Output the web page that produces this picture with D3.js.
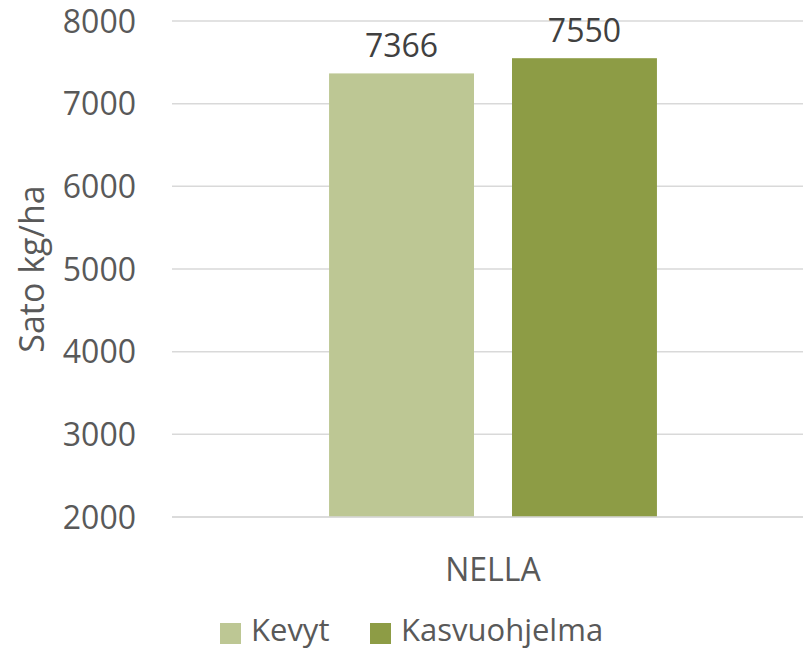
<!DOCTYPE html>
<html>
<head>
<meta charset="utf-8">
<script src="https://cdn.jsdelivr.net/npm/d3@7"></script>
<style>
  body { margin: 0; background: #fff; }
  text { font-family: "Open Sans", sans-serif; fill: #595959; }
</style>
</head>
<body>
<div id="chart"></div>
<script>
var width = 803,
    height = 651;

// data
var categories = ["NELLA"];
var seriesNames = ["Kevyt", "Kasvuohjelma"];
var kevyt = [7366];
var kasvuohjelma = [7550];
var yTicks = [2000, 3000, 4000, 5000, 6000, 7000, 8000];
var colors = ["#bdc794", "#8d9c45"];

var values = [kevyt, kasvuohjelma];

var margin = {left: 172, right: -11, top: 21, bottom: 134};

var svg = d3.select("#chart").append("svg")
    .attr("width", width)
    .attr("height", height);

var x0 = d3.scaleBand()
    .domain(categories)
    .range([margin.left, width - margin.right])
    .paddingInner(0)
    .paddingOuter(0.479);

var x1 = d3.scaleBand()
    .domain(seriesNames)
    .range([0, x0.bandwidth()])
    .paddingInner(0.2077)
    .paddingOuter(0);

var y = d3.scaleLinear()
    .domain([2000, 8000])
    .range([height - margin.bottom, margin.top]);

// gridlines
svg.append("g").selectAll("line")
    .data(yTicks)
    .enter().append("line")
    .attr("x1", margin.left)
    .attr("x2", width)
    .attr("y1", function(d) { return y(d); })
    .attr("y2", function(d) { return y(d); })
    .attr("stroke", "#d9d9d9")
    .attr("stroke-width", 1.5);

// y axis labels
svg.append("g").selectAll("text")
    .data(yTicks)
    .enter().append("text")
    .attr("x", 136)
    .attr("y", function(d) { return y(d); })
    .attr("dy", "0.36em")
    .attr("text-anchor", "end")
    .attr("font-size", 32)
    .text(function(d) { return d; });

// bars
var group = svg.selectAll(".cat")
    .data(categories)
    .enter().append("g")
    .attr("class", "cat")
    .attr("transform", function(d) { return "translate(" + x0(d) + ",0)"; });

seriesNames.forEach(function(s, si) {
  group.append("rect")
      .attr("x", x1(s))
      .attr("width", x1.bandwidth())
      .attr("y", function(d, i) { return y(values[si][i]); })
      .attr("height", function(d, i) { return y(2000) - y(values[si][i]); })
      .attr("fill", colors[si]);

  group.append("text")
      .attr("x", x1(s) + x1.bandwidth() / 2)
      .attr("y", function(d, i) { return y(values[si][i]) - 16; })
      .attr("text-anchor", "middle")
      .attr("font-size", 32)
      .style("fill", "#404040")
      .text(function(d, i) { return values[si][i]; });
});

// baseline
svg.append("line")
    .attr("x1", margin.left)
    .attr("x2", width)
    .attr("y1", y(2000))
    .attr("y2", y(2000))
    .attr("stroke", "#d9d9d9")
    .attr("stroke-width", 1.5);

// category labels
svg.append("g").selectAll("text")
    .data(categories)
    .enter().append("text")
    .attr("x", function(d) { return x0(d) + x0.bandwidth() / 2; })
    .attr("y", 581)
    .attr("text-anchor", "middle")
    .attr("font-size", 32)
    .text(function(d) { return d; });

// y title
svg.append("text")
    .attr("transform", "translate(44," + ((y(2000) + y(8000)) / 2) + ") rotate(-90)")
    .attr("text-anchor", "middle")
    .attr("font-size", 34)
    .text("Sato kg/ha");

// legend
var legendX = [220, 370];
var legend = svg.selectAll(".legend")
    .data(seriesNames)
    .enter().append("g")
    .attr("class", "legend")
    .attr("transform", function(d, i) { return "translate(" + legendX[i] + ",633)"; });

legend.append("rect")
    .attr("x", 0)
    .attr("y", -10)
    .attr("width", 21)
    .attr("height", 21)
    .attr("fill", function(d, i) { return colors[i]; });

legend.append("text")
    .attr("x", 31)
    .attr("y", 8)
    .attr("font-size", 31)
    .text(function(d) { return d; });
</script>
</body>
</html>
